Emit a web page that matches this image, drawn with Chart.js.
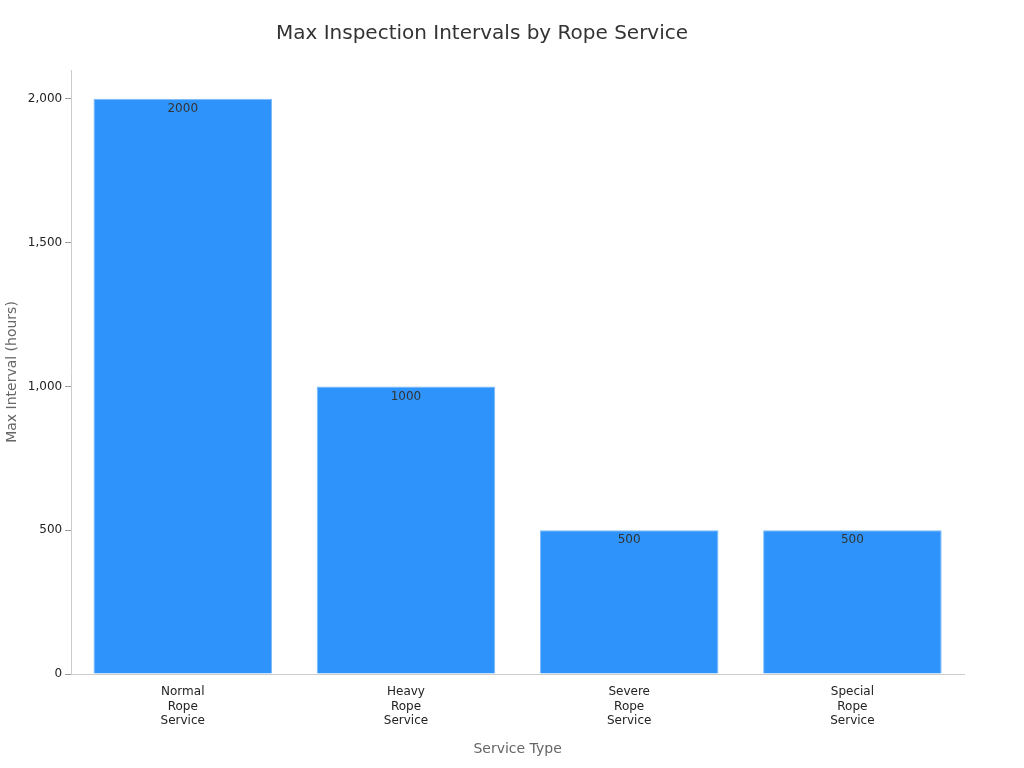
<!DOCTYPE html>
<html>
<head>
<meta charset="utf-8">
<script src="https://cdn.jsdelivr.net/npm/chart.js@4/dist/chart.umd.min.js"></script>
<style>
html, body { margin: 0; padding: 0; background: #fff; }
#wrap { width: 1024px; height: 768px; }
</style>
</head>
<body>
<div id="wrap"><canvas id="chart" width="1024" height="768"></canvas></div>
<script>
// chart data
var categories = [["Normal", "Rope", "Service"], ["Heavy", "Rope", "Service"], ["Severe", "Rope", "Service"], ["Special", "Rope", "Service"]];
var intervals = [2000, 1000, 500, 500];
var yTicks = [0, 500, 1000, 1500, 2000];

// values written just under the top of each bar
var barLabels = {
    id: 'barLabels',
    afterDatasetsDraw: function(chart) {
        var ctx = chart.ctx;
        var meta = chart.getDatasetMeta(0);
        ctx.save();
        ctx.font = '12px "DejaVu Sans", sans-serif';
        ctx.fillStyle = '#333';
        ctx.textAlign = 'center';
        ctx.textBaseline = 'top';
        meta.data.forEach(function(bar, i) {
            ctx.fillText(String(intervals[i]), bar.x, bar.y + 4);
        });
        ctx.restore();
    }
};

Chart.defaults.font.family = '"DejaVu Sans", sans-serif';

new Chart(document.getElementById('chart'), {
    type: 'bar',
    data: {
        labels: categories,
        datasets: [{
            data: intervals,
            backgroundColor: '#2E93FA',
            borderColor: '#7DBBF8',
            borderWidth: 1,
            barPercentage: 0.8,
            categoryPercentage: 1.0
        }]
    },
    options: {
        responsive: false,
        animation: false,
        layout: { padding: { left: 0, right: 60, top: 10, bottom: 6 } },
        plugins: {
            legend: { display: false },
            tooltip: { enabled: false },
            title: {
                display: true,
                text: 'Max Inspection Intervals by Rope Service',
                color: '#333',
                font: { size: 20, weight: 'normal' },
                padding: { top: 12, bottom: 24 }
            }
        },
        scales: {
            x: {
                grid: { display: false, drawTicks: true },
                border: { color: '#ccc' },
                ticks: { color: '#222', font: { size: 12 }, maxRotation: 0 },
                title: { display: true, text: 'Service Type', color: '#666', font: { size: 14 }, padding: { top: 10 } }
            },
            y: {
                min: 0,
                max: 2100,
                afterBuildTicks: function(axis) {
                    axis.ticks = yTicks.map(function(v) { return { value: v }; });
                },
                grid: { display: true, drawOnChartArea: false, color: '#999', tickLength: 6 },
                border: { color: '#ccc' },
                ticks: { color: '#222', font: { size: 12 } },
                title: { display: true, text: 'Max Interval (hours)', color: '#666', font: { size: 14 } }
            }
        }
    },
    plugins: [barLabels]
});
</script>
</body>
</html>
